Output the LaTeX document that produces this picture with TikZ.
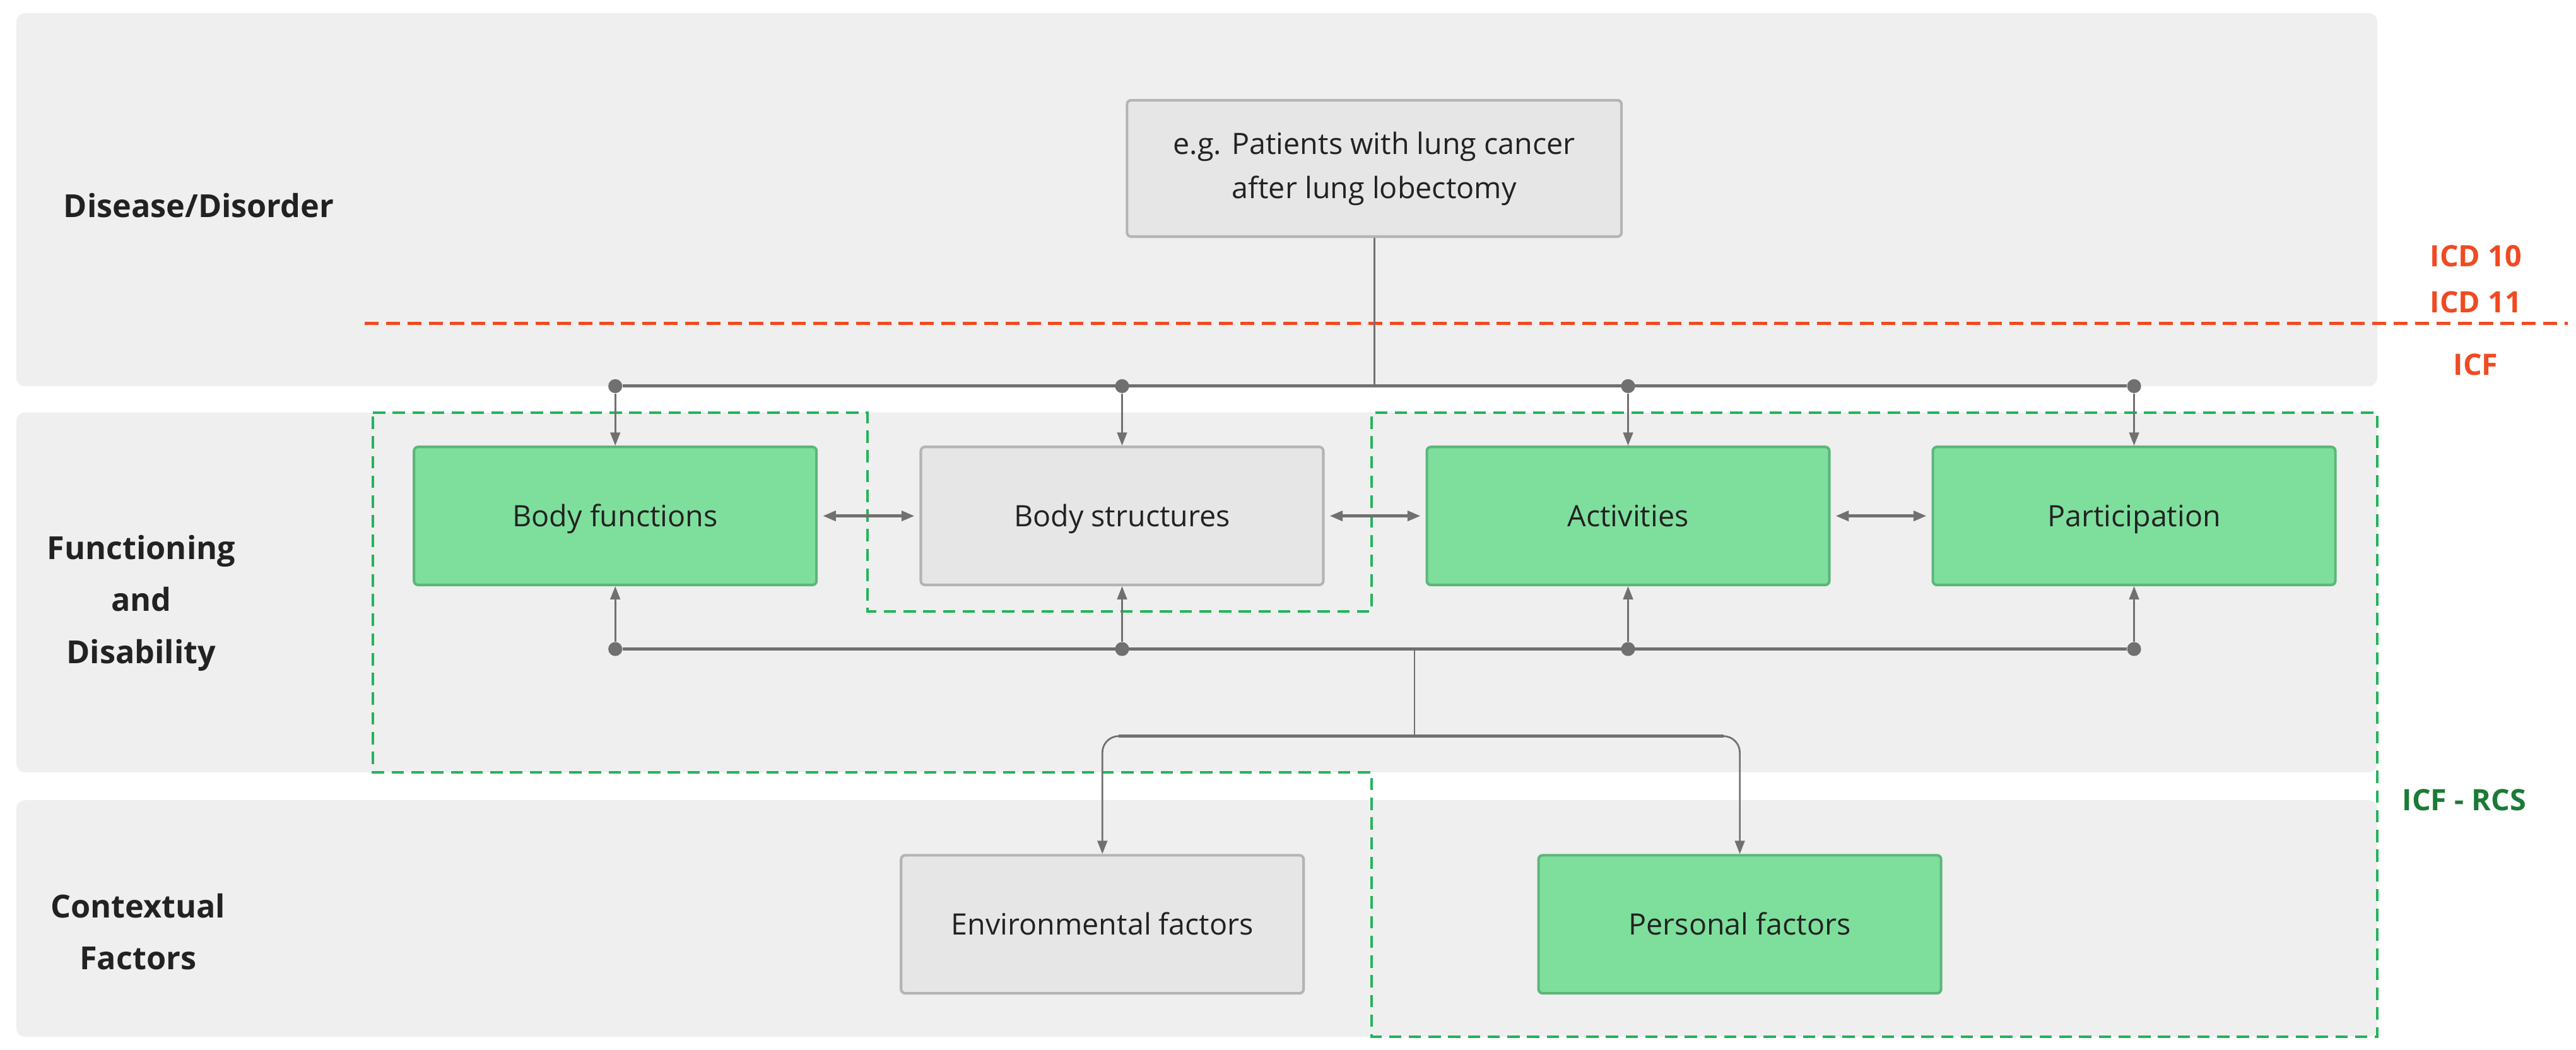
\documentclass[tikz,border=0pt]{standalone}
\usepackage{fontspec}
\setmainfont{Open Sans}
\usetikzlibrary{arrows.meta}

\definecolor{bandgrey}{HTML}{EFEFEF}
\definecolor{boxgrey}{HTML}{E6E6E6}
\definecolor{boxgreyline}{HTML}{B4B4B4}
\definecolor{boxgreen}{HTML}{7EDF9D}
\definecolor{boxgreenline}{HTML}{5DB67A}
\definecolor{wire}{HTML}{707070}
\definecolor{icdred}{HTML}{F04A22}
\definecolor{rcsgreen}{HTML}{22B45A}
\definecolor{rcsdark}{HTML}{1B7A36}
\definecolor{inktext}{HTML}{222222}

\begin{document}
\begin{tikzpicture}[
        x=0.2mm, y=-0.2mm,
        >={Triangle[length=1.6mm,width=1.2mm]},
        band/.style={fill=bandgrey, rounded corners=1mm},
        boxbase/.style={
            rectangle,
            rounded corners=0.5mm,
            draw=boxgreyline,
            fill=boxgrey,
            line width=0.9pt,
            minimum width=49mm,
            minimum height=16.8mm,
            inner sep=0pt,
            align=center,
            font=\fontsize{10.2}{15.3}\selectfont
        },
        greybox/.style={boxbase, text height=1.9ex, text depth=0.5ex},
        greenbox/.style={greybox, draw=boxgreenline, fill=boxgreen},
        sidelabel/.style={align=center, font=\fontsize{11}{18}\selectfont\bfseries},
        codelabel/.style={font=\fontsize{10.2}{12}\selectfont\bfseries, text=icdred},
        dot/.style={circle, fill=wire, minimum size=1.7mm, inner sep=0pt},
        bus/.style={draw=wire, line width=1.1pt},
        wireline/.style={draw=wire, line width=0.6pt},
        every node/.style={text=inktext}
    ]

    \useasboundingbox (0,0) rectangle (1568,639);

    \fill[band] (10,8) rectangle (1447,235);
    \fill[band] (10,251) rectangle (1447,470);
    \fill[band] (10,487) rectangle (1447,631);

    \draw[icdred, line width=1.1pt, dash pattern=on 1.7mm off 0.9mm]
        (222,197) -- (1563,197);

    \draw[rcsgreen, line width=0.9pt, dash pattern=on 1.5mm off 0.9mm]
        (227,251) -- (528,251) -- (528,372) -- (835,372) -- (835,251)
        -- (1447,251) -- (1447,631) -- (835,631) -- (835,470)
        -- (227,470) -- cycle;

    \node[sidelabel] at (121,125) {Disease/Disorder};
    \node[sidelabel] at (86,367) {Functioning\\and\\Disability};
    \node[sidelabel] at (84,567) {Contextual\\Factors};

    \node[codelabel] at (1507,156) {ICD 10};
    \node[codelabel] at (1507,184) {ICD 11};
    \node[codelabel] at (1507,222) {ICF};
    \node[codelabel, text=rcsdark] at (1500,487) {ICF - RCS};

    \node[boxbase, minimum width=60.2mm, minimum height=16.6mm] (dis) at (836.5,102.5)
        {e.g. Patients with lung cancer\\after lung lobectomy};

    \node[greenbox] (bf) at (374.5,314) {Body functions};
    \node[greybox] (bs) at (683,314) {Body structures};
    \node[greenbox] (act) at (991,314) {Activities};
    \node[greenbox] (par) at (1299,314) {Participation};

    \node[greybox] (env) at (671,562.5) {Environmental factors};
    \node[greenbox] (pf) at (1059,562.5) {Personal factors};

    \node[dot] (t1) at (374.5,235) {};
    \node[dot] (t2) at (683,235) {};
    \node[dot] (t3) at (991,235) {};
    \node[dot] (t4) at (1299,235) {};

    \node[dot] (b1) at (374.5,395) {};
    \node[dot] (b2) at (683,395) {};
    \node[dot] (b3) at (991,395) {};
    \node[dot] (b4) at (1299,395) {};

    \coordinate (tj) at (dis.south |- t1);
    \coordinate (bj) at (861,395);
    \coordinate (sj) at (861,448);

    \draw[wireline] (dis) -- (tj);
    \draw[bus] (t1) -- (t4);
    \draw[bus] (b1) -- (b4);

    \draw[wireline, ->] (t1) -- (bf);
    \draw[wireline, ->] (t2) -- (bs);
    \draw[wireline, ->] (t3) -- (act);
    \draw[wireline, ->] (t4) -- (par);

    \draw[wireline, ->] (b1) -- (bf);
    \draw[wireline, ->] (b2) -- (bs);
    \draw[wireline, ->] (b3) -- (act);
    \draw[wireline, ->] (b4) -- (par);

    \draw[bus, <->, shorten <=0.6mm, shorten >=0.6mm] (bf) -- (bs);
    \draw[bus, <->, shorten <=0.6mm, shorten >=0.6mm] (bs) -- (act);
    \draw[bus, <->, shorten <=0.6mm, shorten >=0.6mm] (act) -- (par);

    \draw[wireline] (bj) -- (sj);
    \draw[wireline, ->, rounded corners=2mm] (sj) -| (env);
    \draw[wireline, ->, rounded corners=2mm] (sj) -| (pf);
    \draw[bus] ([xshift=2mm]env.north |- sj) -- ([xshift=-2mm]pf.north |- sj);

\end{tikzpicture}
\end{document}
